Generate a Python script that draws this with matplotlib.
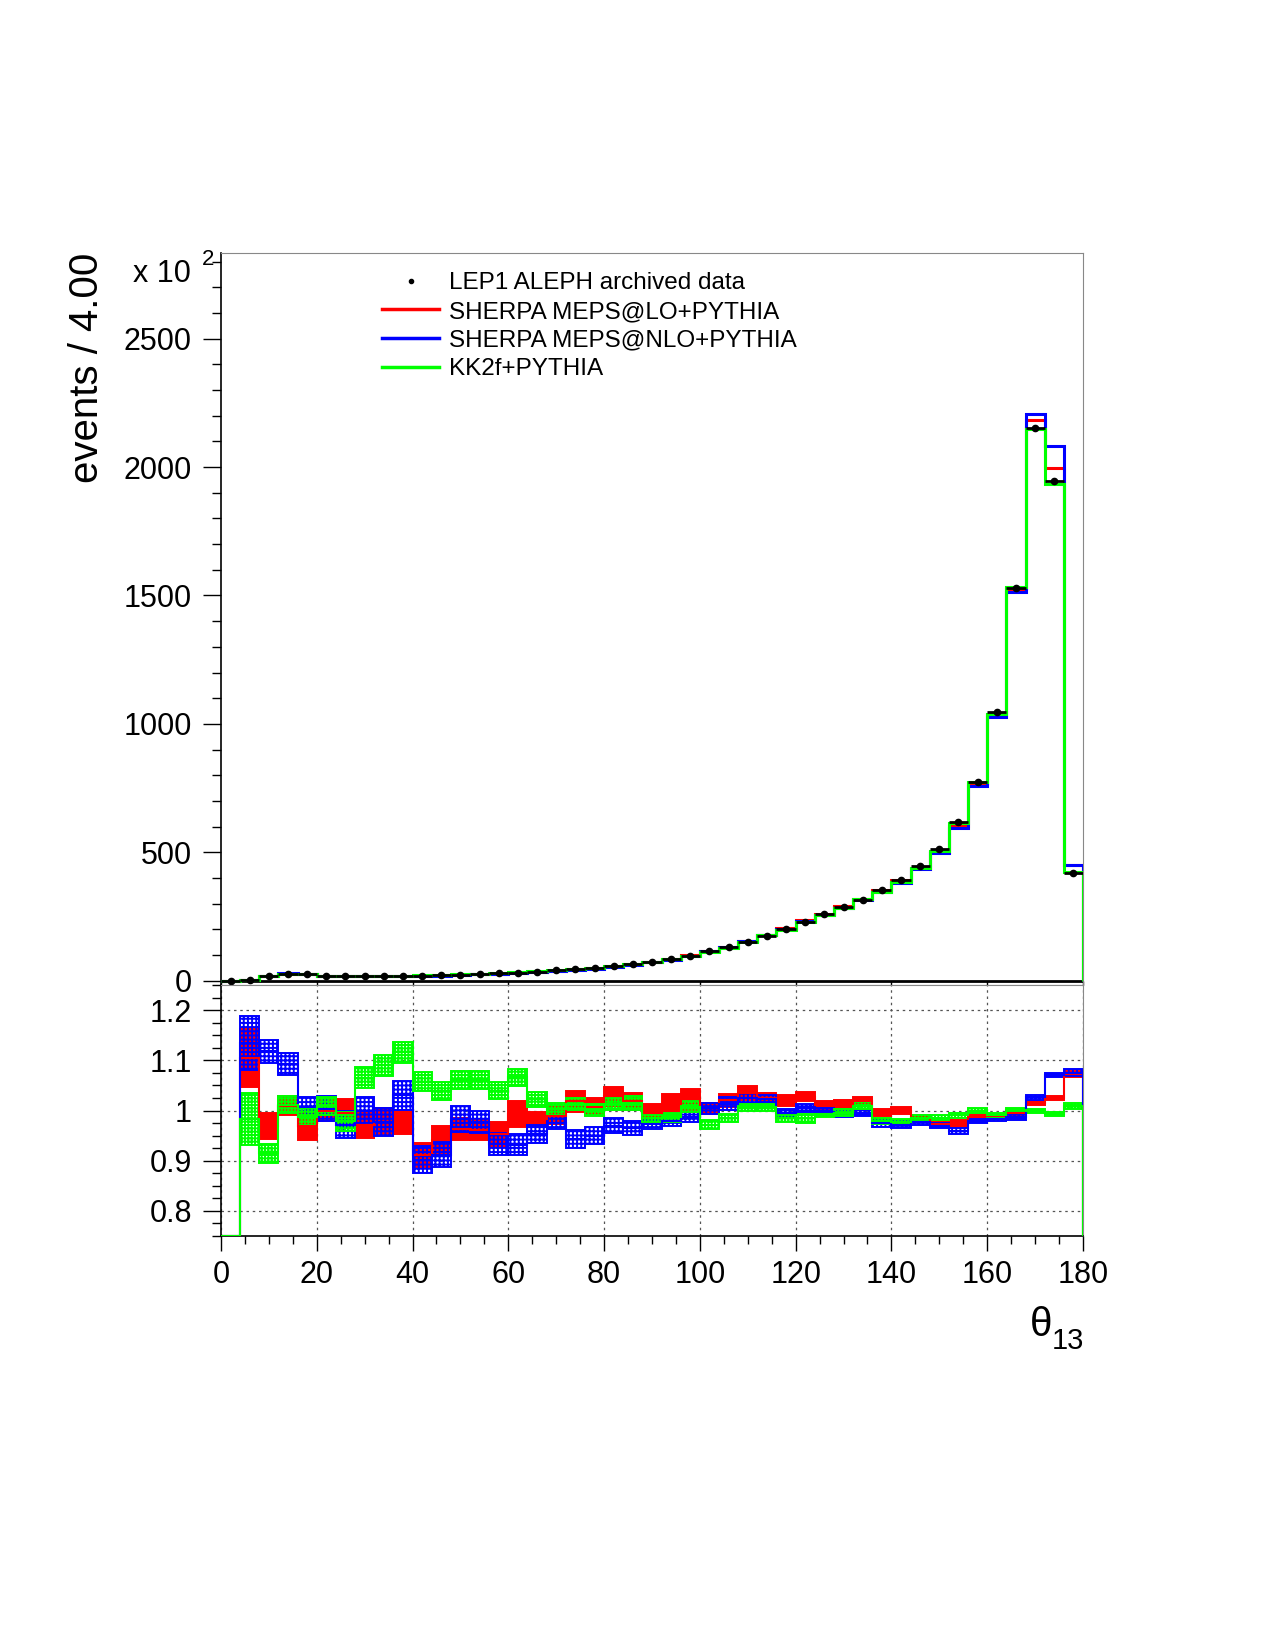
import matplotlib
matplotlib.use('Agg')
import matplotlib.pyplot as plt
from matplotlib.lines import Line2D
from matplotlib.ticker import MultipleLocator
import numpy as np

plt.rcParams['font.family'] = ['Liberation Sans', 'DejaVu Sans']
plt.rcParams['hatch.linewidth'] = 1.4

# theta_13 binning: 45 bins of 4 degrees
bin_edges = np.arange(0, 184, 4)

# main panel (units of 10^2 events)
data_main = [0.5, 3, 18, 26, 25, 19, 17, 17, 17, 18, 20, 22, 23, 26, 29, 31, 35, 40, 44, 49,
             56, 65, 74, 84, 97, 114, 130, 151, 175, 202, 230, 258, 286, 314, 353, 392, 445,
             514, 618, 772, 1045, 1530, 2151, 1947, 420]
lo_main = [0, 3.3, 17.4, 26.3, 24.3, 19, 16.9, 16.5, 16.6, 17.6, 18.2, 20.7, 22.1, 25, 27.6,
           30.8, 34.4, 39.6, 44.8, 49.4, 57.6, 66.2, 73.7, 85.1, 99.1, 114.6, 132.6, 156.3,
           179.4, 206, 236.2, 260.8, 289.7, 320, 351.6, 392, 438.3, 500.6, 601.9, 764.3,
           1034.6, 1523.9, 2183.3, 1995.7, 450.7]
nlo_main = [0, 3.4, 20.1, 28.4, 25.2, 19.1, 16.5, 17, 16.6, 18.5, 18, 20.1, 22.6, 25.4, 27.1,
            28.9, 33.4, 39, 41.5, 46.6, 54.3, 62.8, 72, 82.2, 95.8, 114.6, 131.8, 154.8,
            178.9, 201.2, 231.4, 257.2, 284.6, 312.7, 344.5, 381, 434.8, 498.6, 592.7, 756.6,
            1028.3, 1511.6, 2207, 2083, 451.5]
kk_main = [0, 2.9, 16.5, 26.3, 24.7, 19.2, 16.6, 18.1, 18.5, 20.1, 21.1, 22.8, 24.4, 27.6, 30.1,
           33, 35.8, 40.1, 44.6, 49, 56.7, 66, 73, 82.9, 97.8, 110.8, 128.2, 152.1, 176.2, 199,
           226.6, 256.2, 284.9, 317.1, 345.6, 383.4, 438.8, 506.8, 612.4, 772, 1036.6, 1533.1,
           2148.8, 1933.4, 424.2]

# ratio panel (MC / data) with band half-widths
lo_ratio = [0, 1.105, 0.969, 1.01, 0.97, 1.0, 0.995, 0.972, 0.978, 0.977,
            0.912, 0.942, 0.963, 0.962, 0.953, 0.993, 0.983, 0.99, 1.018, 1.008,
            1.028, 1.018, 0.996, 1.013, 1.022, 1.005, 1.02, 1.035, 1.025, 1.02,
            1.027, 1.011, 1.013, 1.019, 0.996, 1.0, 0.985, 0.974, 0.974, 0.99,
            0.99, 0.996, 1.015, 1.025, 1.073]
nlo_ratio = [0, 1.134, 1.118, 1.093, 1.007, 1.004, 0.972, 0.999, 0.977, 1.03,
             0.902, 0.912, 0.983, 0.977, 0.933, 0.932, 0.953, 0.976, 0.943, 0.95,
             0.97, 0.966, 0.973, 0.979, 0.988, 1.005, 1.014, 1.025, 1.022, 0.996,
             1.006, 0.997, 0.995, 0.996, 0.976, 0.972, 0.977, 0.970, 0.959, 0.98,
             0.984, 0.988, 1.026, 1.07, 1.075]
kk_ratio = [0, 0.983, 0.915, 1.012, 0.988, 1.009, 0.979, 1.065, 1.09, 1.116,
            1.057, 1.038, 1.06, 1.06, 1.039, 1.066, 1.022, 1.003, 1.013, 1.001,
            1.013, 1.015, 0.986, 0.987, 1.008, 0.972, 0.986, 1.007, 1.007, 0.985,
            0.985, 0.993, 0.996, 1.01, 0.979, 0.978, 0.986, 0.986, 0.991, 1.0,
            0.992, 1.002, 0.999, 0.993, 1.01]
lo_err = [0, .058, .026, .019, .028, .02, .027, .026, .027, .024,
          .024, .027, .022, .02, .025, .025, .015, .017, .02, .017,
          .019, .017, .018, .02, .021, .011, .013, .014, .01, .01,
          .009, .007, .008, .008, .007, .007, .006, .006, .007, .004,
          .004, .004, .004, .004, .006]
nlo_err = [0, .054, .023, .022, .02, .024, .027, .028, .028, .028,
           .027, .025, .026, .022, .022, .021, .018, .013, .018, .017,
           .015, .014, .009, .01, .01, .011, .012, .009, .009, .008,
           .008, .008, .008, .007, .008, .007, .005, .005, .006, .004,
           .005, .006, .005, .004, .007]
kk_err = [0, .052, .019, .016, .017, .018, .019, .021, .021, .021,
          .019, .018, .018, .018, .017, .017, .014, .0125, .012, .012,
          .012, .013, .01, .009, .01, .009, .008, .007, .007, .007,
          .009, .005, .007, .007, .006, .005, .005, .005, .005, .005,
          .004, .004, .004, .004, .006]

RED, BLUE, GREEN = '#ff0000', '#0000ff', '#00ff00'
R_MIN, R_MAX = 0.75, 1.25

fig = plt.figure(figsize=(12.75, 16.5), dpi=100)
ax = fig.add_axes([0.1733, 0.4030, 0.6761, 0.4439])
ax_r = fig.add_axes([0.1733, 0.2509, 0.6761, 0.1521])

centers = bin_edges[:-1] + 2

# --- main panel
ax.axhline(0, color='black', lw=2, zorder=1)
for vals, col in [(lo_main, RED), (nlo_main, BLUE), (kk_main, GREEN)]:
    ax.stairs(vals, bin_edges, baseline=0, color=col, lw=2.2, zorder=3)
ax.errorbar(centers, data_main, xerr=2, fmt='o', color='black', ms=4.5,
            elinewidth=2, capsize=0, zorder=5)

ax.set_xlim(0, 180)
ax.set_ylim(-17, 2835)
ax.yaxis.set_major_locator(MultipleLocator(500))
ax.yaxis.set_minor_locator(MultipleLocator(100))
ax.xaxis.set_major_locator(MultipleLocator(20))
ax.tick_params(axis='y', which='major', direction='out', length=13, width=1,
               labelsize=22, pad=8)
ax.tick_params(axis='y', which='minor', direction='out', length=6.5, width=1)
ax.tick_params(axis='x', which='major', direction='in', length=3, width=1,
               labelbottom=False)
for side in ['top', 'right', 'bottom']:
    ax.spines[side].set_color('#888888')
ax.spines['left'].set_linewidth(1.2)

handles = [
    Line2D([], [], marker='o', ms=3, color='black', ls='none'),
    Line2D([], [], color=RED, lw=2.5),
    Line2D([], [], color=BLUE, lw=2.5),
    Line2D([], [], color=GREEN, lw=2.5),
]
labels = ['LEP1 ALEPH archived data', 'SHERPA MEPS@LO+PYTHIA',
          'SHERPA MEPS@NLO+PYTHIA', 'KK2f+PYTHIA']
ax.legend(handles, labels, loc='upper left', bbox_to_anchor=(0.187, 0.973),
          frameon=False, fontsize=17.5, handlelength=2.35, handletextpad=0.4,
          labelspacing=0.27, borderpad=0, borderaxespad=0)

fig.text(0.0686, 0.8469, 'events / 4.00', rotation=90, ha='center', va='top',
         fontsize=29)
fig.text(0.150, 0.8339, 'x 10', ha='right', va='center', fontsize=22)
fig.text(0.1584, 0.8430, '2', ha='left', va='center', fontsize=16)

# --- ratio panel
styles = [
    (lo_ratio, lo_err, RED, dict(facecolor=RED, edgecolor=RED)),
    (nlo_ratio, nlo_err, BLUE, dict(facecolor='none', edgecolor=BLUE, hatch='++++')),
    (kk_ratio, kk_err, GREEN, dict(facecolor='none', edgecolor=GREEN, hatch='+++++')),
]
for ratio, err, col, kw in styles:
    r = np.array(ratio)
    e = np.array(err)
    ax_r.bar(bin_edges[:-1], 2 * e, bottom=r - e, width=4, align='edge',
             linewidth=1.4, zorder=3, **kw)
    ax_r.stairs(np.clip(r, R_MIN, R_MAX), bin_edges, baseline=R_MIN,
                color=col, lw=1.5, zorder=4)

ax_r.set_xlim(0, 180)
ax_r.set_ylim(R_MIN, R_MAX)
ax_r.xaxis.set_major_locator(MultipleLocator(20))
ax_r.xaxis.set_minor_locator(MultipleLocator(5))
ax_r.yaxis.set_major_locator(MultipleLocator(0.1))
ax_r.yaxis.set_minor_locator(MultipleLocator(0.025))
ax_r.set_yticks([0.8, 0.9, 1.0, 1.1, 1.2])
ax_r.set_yticklabels(['0.8', '0.9', '1', '1.1', '1.2'])
ax_r.tick_params(axis='y', which='major', direction='out', length=13, width=1,
                 labelsize=22, pad=8)
ax_r.tick_params(axis='y', which='minor', direction='out', length=6.5, width=1)
ax_r.tick_params(axis='x', which='major', direction='out', length=11, width=1,
                 labelsize=22, pad=6)
ax_r.tick_params(axis='x', which='minor', direction='out', length=6, width=1)
ax_r.grid(True, which='major', color='#555555', linestyle=(0, (2, 3)), lw=0.9)
ax_r.set_axisbelow(True)
for side in ['top', 'right']:
    ax_r.spines[side].set_color('#888888')
ax_r.spines['left'].set_linewidth(1.2)
ax_r.spines['bottom'].set_linewidth(1.2)

fig.text(0.8251, 0.1903, 'θ', ha='right', va='baseline', fontsize=29)
fig.text(0.8502, 0.1824, '13', ha='right', va='baseline', fontsize=21)

fig.savefig('out.png', dpi=100, facecolor='white')
